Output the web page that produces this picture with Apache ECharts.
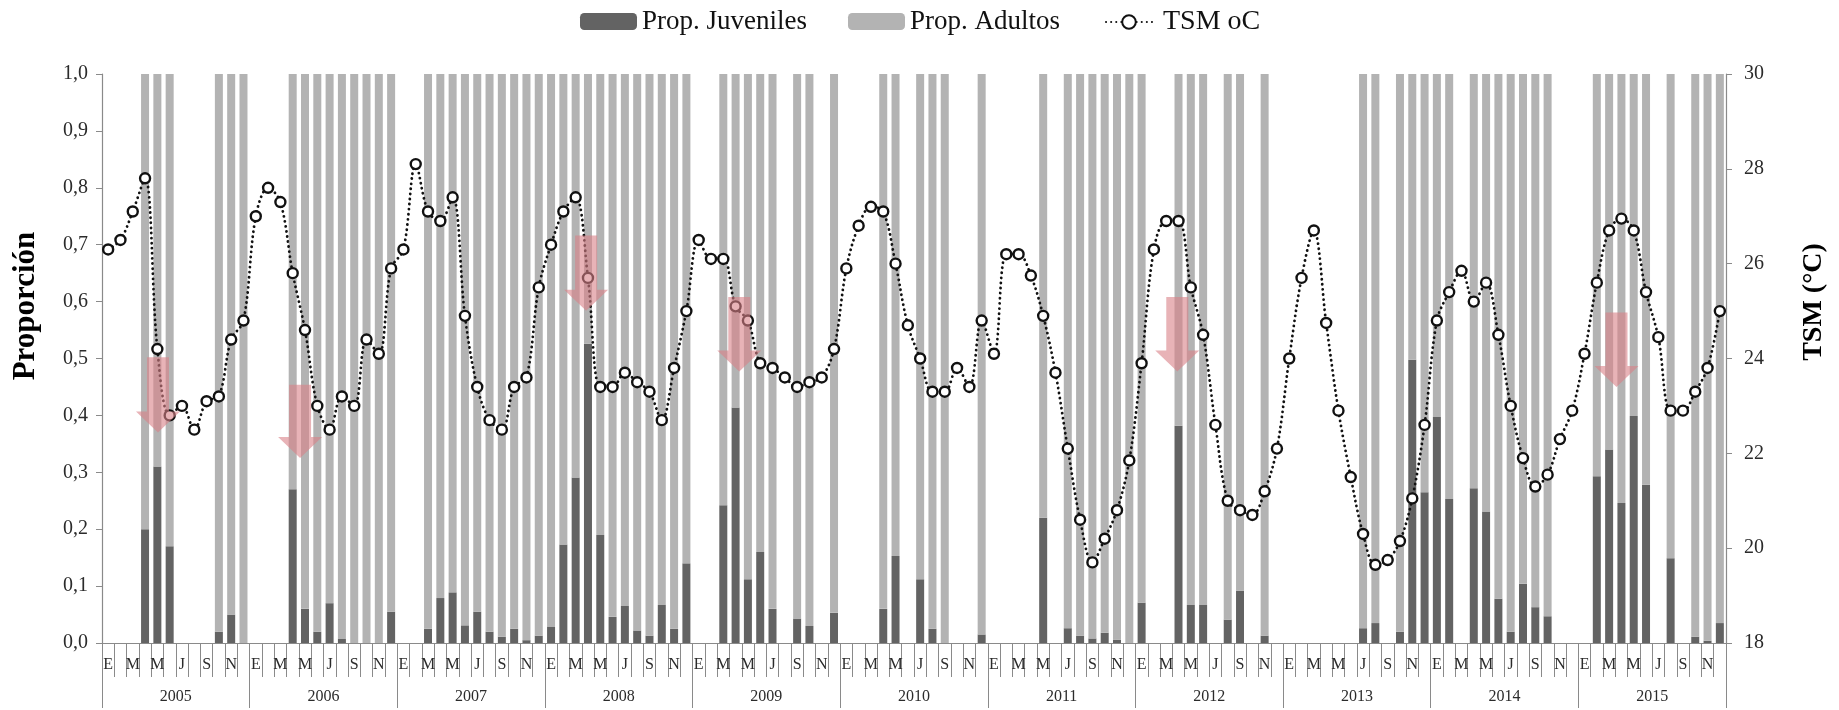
<!DOCTYPE html>
<html>
<head>
<meta charset="utf-8">
<script src="https://cdn.jsdelivr.net/npm/echarts@6/dist/echarts.min.js"></script>
<style>
  html, body { margin: 0; padding: 0; background: #ffffff; }
  #chart { width: 1839px; height: 710px; }
</style>
</head>
<body>
<div id="chart"></div>
<script>
// ---- Data ----
const monthLetters = ['E','F','M','A','M','J','J','A','S','O','N','D'];
const years = ['2005','2006','2007','2008','2009','2010','2011','2012','2013','2014','2015'];

// Proportion of juveniles per month (null = no sample)
const juveniles = [
  null,null,null,0.20,0.31,0.17,null,null,null,0.02,0.05,0.00,          // 2005
  null,null,null,0.27,0.06,0.02,0.07,0.007,0.00,0.00,0.00,0.055,       // 2006
  null,null,0.025,0.079,0.089,0.031,0.055,0.020,0.011,0.025,0.005,0.013, // 2007
  0.029,0.173,0.291,0.526,0.190,0.046,0.065,0.022,0.013,0.067,0.025,0.140, // 2008
  null,null,0.242,0.414,0.112,0.160,0.060,null,0.043,0.030,null,0.053, // 2009
  null,null,null,0.060,0.153,null,0.112,0.025,0.00,null,null,0.015,    // 2010
  null,null,null,null,0.220,null,0.026,0.013,0.008,0.018,0.006,0.00,   // 2011
  0.071,null,null,0.382,0.067,0.067,null,0.041,0.092,null,0.013,null,  // 2012
  null,null,null,null,null,null,0.026,0.035,null,0.020,0.498,0.265,    // 2013
  0.397,0.253,null,0.272,0.231,0.078,0.020,0.104,0.063,0.047,null,null, // 2014
  null,0.293,0.340,0.246,0.399,0.278,null,0.149,null,0.011,0.004,0.035  // 2015
];

// Proportion of adults per month (null = no sample)
const adults = [
  null,null,null,0.80,0.69,0.83,null,null,null,0.98,0.95,1.00,
  null,null,null,0.73,0.94,0.98,0.93,0.993,1.00,1.00,1.00,0.945,
  null,null,0.975,0.921,0.911,0.969,0.945,0.980,0.989,0.975,0.995,0.987,
  0.971,0.827,0.709,0.474,0.810,0.954,0.935,0.978,0.987,0.933,0.975,0.860,
  null,null,0.758,0.586,0.888,0.840,0.940,null,0.957,0.970,null,0.947,
  null,null,null,0.940,0.847,null,0.888,0.975,1.00,null,null,0.985,
  null,null,null,null,0.780,null,0.974,0.987,0.992,0.982,0.994,1.00,
  0.929,null,null,0.618,0.933,0.933,null,0.959,0.908,null,0.987,null,
  null,null,null,null,null,null,0.974,0.965,null,0.980,0.502,0.735,
  0.603,0.747,null,0.728,0.769,0.922,0.980,0.896,0.937,0.953,null,null,
  null,0.707,0.660,0.754,0.601,0.722,null,0.851,null,0.989,0.996,0.965
];

// Sea surface temperature (TSM, °C)
const tsm = [
  26.3,26.5,27.1,27.8,24.2,22.8,23.0,22.5,23.1,23.2,24.4,24.8,   // 2005
  27.0,27.6,27.3,25.8,24.6,23.0,22.5,23.2,23.0,24.4,24.1,25.9,   // 2006
  26.3,28.1,27.1,26.9,27.4,24.9,23.4,22.7,22.5,23.4,23.6,25.5,   // 2007
  26.4,27.1,27.4,25.7,23.4,23.4,23.7,23.5,23.3,22.7,23.8,25.0,   // 2008
  26.5,26.1,26.1,25.1,24.8,23.9,23.8,23.6,23.4,23.5,23.6,24.2,   // 2009
  25.9,26.8,27.2,27.1,26.0,24.7,24.0,23.3,23.3,23.8,23.4,24.8,   // 2010
  24.1,26.2,26.2,25.75,24.9,23.7,22.1,20.6,19.7,20.2,20.8,21.85, // 2011
  23.9,26.3,26.9,26.9,25.5,24.5,22.6,21.0,20.8,20.7,21.2,22.1,   // 2012
  24.0,25.7,26.7,24.75,22.9,21.5,20.3,19.65,19.75,20.15,21.05,22.6, // 2013
  24.8,25.4,25.85,25.2,25.6,24.5,23.0,21.9,21.3,21.55,22.3,22.9, // 2014
  24.1,25.6,26.7,26.95,26.7,25.4,24.45,22.9,22.9,23.3,23.8,25.0  // 2015
];

// Annotation arrows: [month index, top (proportion), tip (proportion), shift within month]
const arrowMarks = [
  [4, 0.502, 0.370, 0.05],
  [15, 0.454, 0.325, 0.60],
  [38, 0.716, 0.584, 0.85],
  [51, 0.608, 0.477, 0.30],
  [86, 0.608, 0.477, 0.90],
  [122, 0.581, 0.450, 0.60]
];

// ---- Build ----
const monthCats = [];
years.forEach(y => monthLetters.forEach((m, k) => monthCats.push(y + '-' + (k + 1))));

const serif = "'Liberation Serif', 'Times New Roman', serif";
const axisGray = '#8a8a8a';
const textCol = '#2b2b2b';

const chart = echarts.init(document.getElementById('chart'), null, { renderer: 'canvas' });

const option = {
  backgroundColor: '#ffffff',
  animation: false,
  textStyle: { fontFamily: serif },
  legend: [
    {
      left: 575, top: 3,
      itemWidth: 57, itemHeight: 17, itemGap: 41,
      textStyle: { fontFamily: serif, fontSize: 27, color: '#111' },
      data: ['Prop. Juveniles', 'Prop. Adultos']
    },
    {
      left: 1100, top: 3,
      itemWidth: 46, itemHeight: 17,
      textStyle: { fontFamily: serif, fontSize: 28, color: '#111', padding: [0, 0, 0, 6] },
      data: ['TSM oC']
    }
  ],
  graphic: [
    {
      type: 'text', x: 26, y: 306, rotation: Math.PI / 2,
      style: {
        text: 'Proporción', fontFamily: serif, fontSize: 31, fontWeight: 'bold',
        fill: '#000', align: 'center', verticalAlign: 'middle'
      }
    },
    {
      type: 'text', x: 1814, y: 302, rotation: Math.PI / 2,
      style: {
        text: 'TSM (°C)', fontFamily: serif, fontSize: 28, fontWeight: 'bold',
        fill: '#000', align: 'center', verticalAlign: 'middle'
      }
    }
  ],
  grid: { left: 102, right: 113, top: 74, bottom: 67, containLabel: false },
  xAxis: [
    {
      type: 'category',
      data: monthCats,
      position: 'bottom',
      boundaryGap: true,
      axisLine: { show: true, lineStyle: { color: axisGray, width: 1.2 } },
      axisTick: { show: true, interval: 0, length: 34, lineStyle: { color: axisGray } },
      axisLabel: {
        interval: 1,
        margin: 14,
        fontFamily: serif, fontSize: 16, color: textCol,
        formatter: (v, idx) => monthLetters[idx % 12]
      },
      splitLine: { show: false }
    },
    {
      type: 'category',
      data: years,
      position: 'bottom',
      boundaryGap: true,
      axisLine: { show: true, lineStyle: { color: axisGray, width: 1.2 } },
      axisTick: { show: true, interval: 0, length: 65, lineStyle: { color: axisGray } },
      axisLabel: { interval: 0, margin: 46, fontFamily: serif, fontSize: 16, color: textCol },
      splitLine: { show: false }
    }
  ],
  yAxis: [
    {
      type: 'value',
      min: 0, max: 1, interval: 0.1,
      axisLine: { show: true, lineStyle: { color: axisGray, width: 1.2 } },
      axisTick: { show: true, length: 6, lineStyle: { color: axisGray } },
      axisLabel: {
        margin: 14, fontFamily: serif, fontSize: 20, color: textCol,
        formatter: v => v.toFixed(1).replace('.', ',')
      },
      splitLine: { show: false }
    },
    {
      type: 'value',
      min: 18, max: 30, interval: 2,
      position: 'right',
      axisLine: { show: true, lineStyle: { color: axisGray, width: 1.2 } },
      axisTick: { show: true, length: 6, lineStyle: { color: axisGray } },
      axisLabel: { margin: 18, fontFamily: serif, fontSize: 20, color: textCol },
      splitLine: { show: false }
    }
  ],
  series: [
    {
      name: 'Prop. Juveniles',
      type: 'bar',
      stack: 'p',
      xAxisIndex: 0, yAxisIndex: 0,
      barWidth: 8,
      itemStyle: { color: '#636363' },
      data: juveniles,
      z: 2
    },
    {
      name: 'Prop. Adultos',
      type: 'bar',
      stack: 'p',
      xAxisIndex: 0, yAxisIndex: 0,
      barWidth: 8,
      itemStyle: { color: '#b3b3b3' },
      data: adults,
      z: 2
    },
    {
      name: 'TSM oC',
      type: 'line',
      xAxisIndex: 0, yAxisIndex: 1,
      data: tsm,
      smooth: 0.35,
      symbol: 'circle',
      symbolSize: 10,
      showAllSymbol: true,
      lineStyle: { color: '#111', width: 2.8, type: [0.1, 5], cap: 'round' },
      itemStyle: { color: '#ffffff', borderColor: '#111', borderWidth: 2.4 },
      z: 5
    },
    {
      name: 'arrows',
      type: 'custom',
      xAxisIndex: 0, yAxisIndex: 0,
      data: arrowMarks,
      encode: { x: 0, y: [1, 2] },
      silent: true,
      z: 10,
      renderItem: function (params, api) {
        const m = api.value(0), top = api.value(1), tip = api.value(2), frac = api.value(3);
        const p0 = api.coord([m, top]);
        const p1 = api.coord([m, tip]);
        const bw = api.size([1, 0])[0];
        const cx = p0[0] + frac * bw;
        const sh = 11, hh = 22, headH = 21;
        const yTop = p0[1], yTip = p1[1], yHead = yTip - headH;
        return {
          type: 'polygon',
          shape: {
            points: [
              [cx - sh, yTop], [cx + sh, yTop], [cx + sh, yHead], [cx + hh, yHead],
              [cx, yTip], [cx - hh, yHead], [cx - sh, yHead]
            ]
          },
          style: { fill: 'rgba(216,128,135,0.6)' }
        };
      }
    }
  ]
};

chart.setOption(option);
</script>
</body>
</html>
